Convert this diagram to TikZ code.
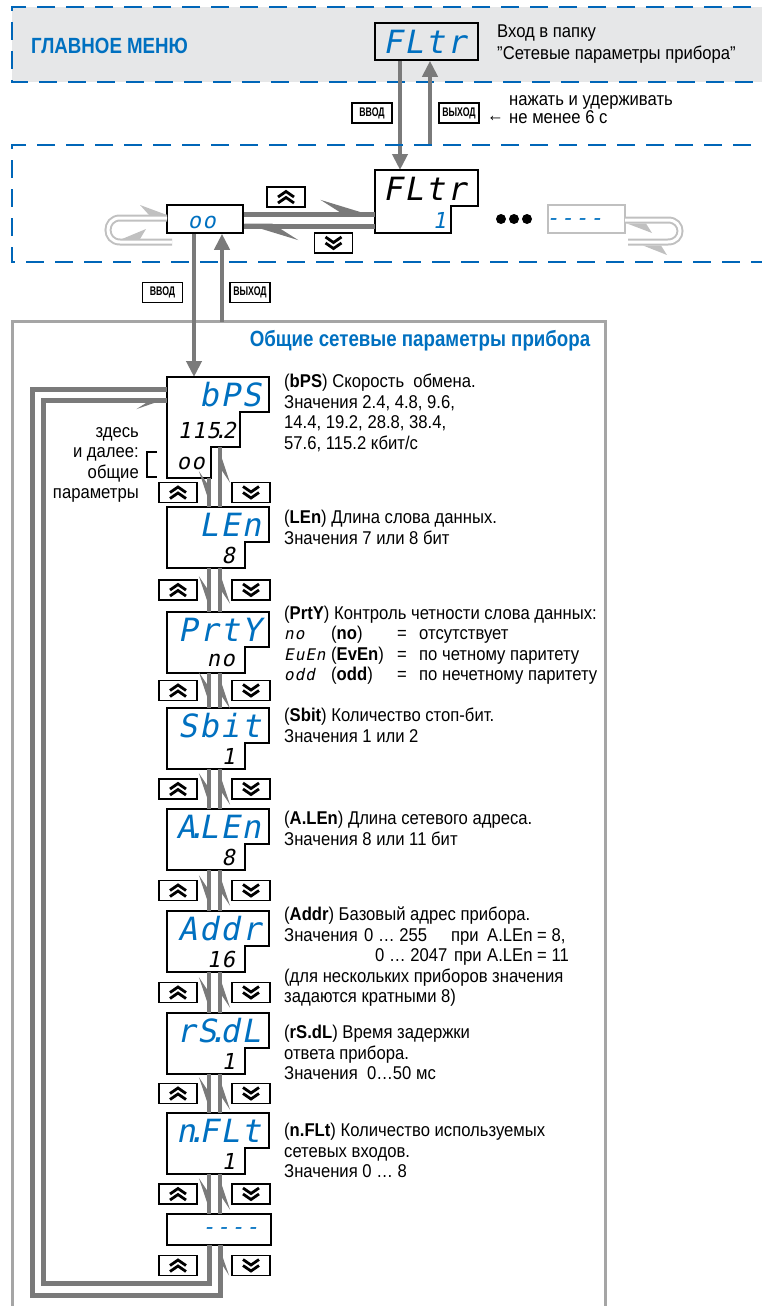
\documentclass[tikz,border=0pt]{standalone}
\usepackage{fontspec}
\setmainfont{Liberation Sans}[FakeStretch=0.9]
\newfontfamily\segfont{DejaVu Sans Mono}[FakeSlant=0.2, LetterSpace=6]
\newfontfamily\keyfont{Liberation Sans}[FakeStretch=0.7]
\newfontfamily\titlefont{Liberation Sans}[FakeStretch=0.85]
\usetikzlibrary{arrows.meta, positioning, calc}

\definecolor{segblue}{RGB}{0,112,192}
\definecolor{dashblue}{RGB}{0,102,184}
\definecolor{bandgray}{RGB}{230,231,232}
\definecolor{flowgray}{RGB}{122,122,122}
\definecolor{framegray}{RGB}{165,165,165}
\definecolor{loopgray}{RGB}{192,192,192}

\newcommand\sd{\rlap{\kern-0.27em.}\kern0.12em} % decimal point of the display

% display of one parameter: name, top, label, value
\newcommand\parambox[4]{%
  \draw[disp] (167,#2) -- (269,#2) -- (269,#2+35) -- (245,#2+35) -- (245,#2+61) -- (167,#2+61) -- cycle;
  \node[segname] (#1) at (261,#2+18) {#3};
  \node[segval] (#1-val) at (235,#2+48) {#4};
  \coordinate (#1-t) at (209,#2);
  \coordinate (#1-d) at (209,#2+61);
  \coordinate (#1-u) at (220,#2+61);
}

\tikzset{
  disp/.style={draw, line width=1.6pt, inner sep=0pt},
  segname/.style={font=\segfont\fontsize{32}{32}\selectfont, text=segblue, inner sep=0pt, anchor=east},
  segval/.style={font=\segfont\fontsize{22}{22}\selectfont, inner sep=0pt, anchor=east},
  segsmall/.style={font=\segfont\fontsize{16}{16}\selectfont, inner sep=0pt, anchor=base west},
  desc/.style={font=\fontsize{18.5}{20.5}\selectfont, align=left, inner sep=0pt, anchor=north west},
  descline/.style={font=\fontsize{18.5}{20.5}\selectfont, inner sep=0pt, anchor=base west},
  menutitle/.style={font=\titlefont\bfseries\fontsize{22}{22}\selectfont, text=segblue, inner sep=0pt},
  key/.style={draw, line width=1.3pt, font=\keyfont\bfseries\fontsize{12.5}{12.5}\selectfont,
    inner sep=0pt, minimum width=40pt, minimum height=20pt},
  btn/.style={draw, line width=1.5pt, minimum width=38pt, minimum height=20pt, inner sep=0pt},
  btnup/.style={btn, path picture={
    \draw[line width=2.8pt] ([shift={(-8pt,-6pt)}]path picture bounding box.center) -- ++(8pt,5.5pt) -- ++(8pt,-5.5pt)
      ([shift={(-8pt,0pt)}]path picture bounding box.center) -- ++(8pt,5.5pt) -- ++(8pt,-5.5pt);}},
  btndown/.style={btn, path picture={
    \draw[line width=2.8pt] ([shift={(-8pt,6pt)}]path picture bounding box.center) -- ++(8pt,-5.5pt) -- ++(8pt,5.5pt)
      ([shift={(-8pt,0pt)}]path picture bounding box.center) -- ++(8pt,-5.5pt) -- ++(8pt,5.5pt);}},
  blueframe/.style={draw=dashblue, line width=2.5pt, dash pattern=on 18pt off 11pt},
  flow/.style={draw=flowgray, line width=4pt},
  fullarrow/.style={flow, -{Triangle[length=16pt, width=15pt]}},
  halfcol/.style={flow, postaction={draw=flowgray, line width=4pt,
    -{Stealth[harpoon, swap, length=30pt, width=20pt, inset=15pt]}}},
  bandarrow/.style={flow, line width=5pt, postaction={draw=flowgray, line width=5pt,
    -{Stealth[harpoon, length=46pt, width=28pt, inset=22pt]}}},
  loopline/.style={flow, line width=5pt, postaction={draw=flowgray, line width=5pt,
    -{Stealth[harpoon, swap, length=26pt, width=18pt, inset=14pt]}}},
  hollow/.style={draw=loopgray, line width=2pt, double=white, double distance=3pt},
}

\begin{document}
\begin{tikzpicture}[x=1pt, y=-1pt, line join=miter]
\useasboundingbox (0,0) rectangle (762,1306);
\clip (0,0) rectangle (762,1306);

% main menu
\fill[bandgray] (12,7) rectangle (780,82);
\draw[blueframe] (780,7) -- (12,7) -- (12,82) -- (780,82);
\node[menutitle, anchor=west] (mainmenu) at (31,46) {ГЛАВНОЕ МЕНЮ};
\node[disp, minimum width=103pt, minimum height=37pt] (topfltr) at (426.5,41.5) {};
\node[segname] (topfltr-txt) at (466,42) {FLtr};
\node[desc, font=\fontsize{18.5}{22}\selectfont] (entertxt) at (497,25) {Вход в папку\\"Сетевые параметры прибора"};

\coordinate (in1) at (400,170);
\coordinate (out1) at (430,145);
\draw[fullarrow] (topfltr.south -| in1) -- (in1);
\draw[fullarrow] (out1) -- (topfltr.south -| out1);
\node[key] (enter1) at (372,113) {ВВОД};
\node[key] (exit1) at (459,113) {ВЫХОД};
\node[descline] (holdarrow) at (487,121) {←};
\node[desc, font=\fontsize{18.5}{18.5}\selectfont] (holdtxt) at (509,95) {нажать и удерживать\\не менее 6 с};

% folder level
\draw[blueframe] (780,145) -- (12,145) -- (12,262) -- (780,262);
\node[disp, minimum width=76pt, minimum height=28pt] (oobox) at (205,219) {};
\node[segval, text=segblue] (oobox-txt) at (216,222) {oo};
\draw[disp] (375,170) -- (478,170) -- (478,206) -- (451,206) -- (451,233) -- (375,233) -- cycle;
\node[segname, text=black] (midfltr) at (466,189) {FLtr};
\node[segval, text=segblue] (midfltr-val) at (446,220) {1};
\node[btnup] (bandup) at (286,197) {};
\node[btndown] (banddn) at (333.5,243) {};
\foreach \i in {0,1,2}
  \fill (501+13*\i,219) circle[radius=5];
\node[draw=loopgray, line width=1.6pt, minimum width=77pt, minimum height=28pt, inner sep=0pt] (lastbox) at (586.5,219) {};
\node[segval, text=segblue] (lastbox-txt) at (603,222) {----};

\coordinate (fw1) at (375,214);
\coordinate (fw2) at (375,226);
\draw[bandarrow] (oobox.east |- fw1) -- (fw1);
\draw[bandarrow] (fw2) -- (oobox.east |- fw2);

\draw[hollow] (172,242) -- (120,242) .. controls (104,242) and (104,218) .. (120,218) -- (167,218);
\fill[loopgray] (167,215) -- (140,205) -- (149,215) -- cycle;
\fill[loopgray] (122,239) -- (146,229) -- (140,239) -- cycle;
\draw[hollow] (625,220) -- (668,220) .. controls (684,220) and (684,242) .. (668,242) -- (628,242);
\fill[loopgray] (627,223.5) -- (652,233) -- (646,223.5) -- cycle;
\fill[loopgray] (643,245.5) -- (667,255) -- (661,245.5) -- cycle;

% common parameters
\draw[framegray, line width=3pt] (12,1320) -- (12,321.5) -- (605,321.5) -- (605,1320);
\node[menutitle] (commontitle) at (420,341) {Общие сетевые параметры прибора};
\coordinate (in2) at (194,377);
\coordinate (out2) at (222,321.5);
\draw[fullarrow] (oobox.south -| in2) -- (in2);
\draw[fullarrow] (out2) -- (oobox.south -| out2);
\node[key] (enter2) at (162.5,292.5) {ВВОД};
\node[key] (exit2) at (250,292.5) {ВЫХОД};

\draw[disp] (167,377) -- (269,377) -- (269,412) -- (240,412) -- (240,447) -- (211,447) -- (211,478) -- (167,478) -- cycle;
\node[segname] (bps) at (261,395) {bPS};
\node[segval] (bps-val) at (236,430) {115\sd 2};
\node[segval] (bps-net) at (205,463) {oo};
\coordinate (bps-d) at (209,478);
\coordinate (bps-u) at (220,447);
\coordinate (bps-l1) at (167,389);
\coordinate (bps-l2) at (167,400);
\draw[line width=2.2pt] (157,452) -- (147,452) -- (147,477) -- (157,477);
\node[desc, anchor=north east, align=right] (sharednote) at (139,427) {здесь\\и далее:\\общие\\параметры};

\parambox{len}{507}{LEn}{8}
\parambox{prty}{612}{PrtY}{no}
\parambox{sbit}{708}{Sbit}{1}
\parambox{alen}{809}{A\sd LEn}{8}
\parambox{addr}{911}{Addr}{16}
\parambox{rsdl}{1013}{rS\sd dL}{1}
\parambox{nflt}{1113}{n\sd FLt}{1}
\node[disp, minimum width=104pt, minimum height=31pt] (lastpar) at (219,1229.5) {};
\node[segval, text=segblue] (lastpar-txt) at (259,1231) {----};
\coordinate (lastpar-t) at (209,1214);
\coordinate (lastpar-d) at (209,1245);
\coordinate (lastpar-u) at (220,1245);

\foreach \a/\b in {bps/len, len/prty, prty/sbit, sbit/alen, alen/addr, addr/rsdl, rsdl/nflt, nflt/lastpar} {
  \draw[halfcol] (\a-d) -- (\b-t);
  \draw[halfcol] (\a-u |- \b-t) -- (\a-u);
  \node[btnup] (\a-up) at ($(\a-d)!0.5!(\b-t) + (-31,0)$) {};
  \node[btndown] (\a-dn) at ($(\a-d)!0.5!(\b-t) + (42,0)$) {};
}
\node[btnup] (lastpar-up) at (178,1265.5) {};
\node[btndown] (lastpar-dn) at (251,1265.5) {};

\draw[loopline] (lastpar-d) -- ++(0,38) -| (43,400) -- (bps-l2);
\draw[loopline] (bps-l1) -| (32,1295) -| (lastpar-u);

% descriptions
\node[desc] (bps-txt) at (284,374) {(\textbf{bPS}) Скорость\ \ обмена.\\Значения 2.4, 4.8, 9.6,\\14.4, 19.2, 28.8, 38.4,\\57.6, 115.2 кбит/с};
\node[desc] (len-txt) at (284,510) {(\textbf{LEn}) Длина слова данных.\\Значения 7 или 8 бит};
\node[desc] (prty-txt) at (284,606) {(\textbf{PrtY}) Контроль четности слова данных:};
\foreach \s/\p/\t [count=\k] in {no/no/отсутствует, EuEn/EvEn/по четному паритету, odd/odd/по нечетному паритету} {
  \node[segsmall] (par\k-s) at (284,619+20.5*\k) {\s};
  \node[descline] (par\k-b) at (331,619+20.5*\k) {(\textbf{\p})};
  \node[descline] (par\k-e) at (397,619+20.5*\k) {=};
  \node[descline] (par\k-t) at (419,619+20.5*\k) {\t};
}
\node[desc] (sbit-txt) at (284,708) {(\textbf{Sbit}) Количество стоп-бит.\\Значения 1 или 2};
\node[desc] (alen-txt) at (284,811) {(\textbf{A.LEn}) Длина сетевого адреса.\\Значения 8 или 11 бит};
\node[desc] (addr-txt) at (284,907) {(\textbf{Addr}) Базовый адрес прибора.\\Значения\\\mbox{}\\(для нескольких приборов значения\\задаются кратными 8)};
\node[descline] (addr-r1) at (364,941) {0 … 255};
\node[descline] (addr-p1) at (451,941) {при};
\node[descline] (addr-a1) at (487,941) {A.LEn = 8,};
\node[descline] (addr-r2) at (375,961.5) {0 … 2047};
\node[descline] (addr-p2) at (454,961.5) {при};
\node[descline] (addr-a2) at (487,961.5) {A.LEn = 11};
\node[desc] (rsdl-txt) at (284,1025) {(\textbf{rS.dL}) Время задержки\\ответа прибора.\\Значения\ \ 0…50 мс};
\node[desc] (nflt-txt) at (284,1123) {(\textbf{n.FLt}) Количество используемых\\сетевых входов.\\Значения 0 … 8};
\end{tikzpicture}
\end{document}
